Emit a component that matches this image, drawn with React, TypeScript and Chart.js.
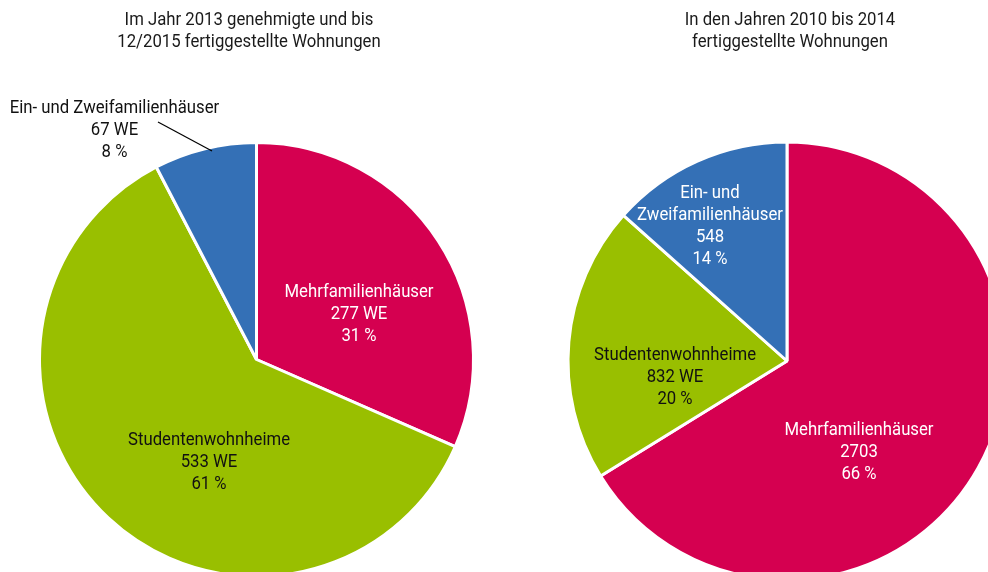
import React, { useEffect, useRef } from "react";
import { Chart, registerables } from "chart.js";

Chart.register(...registerables);

// ---------- data ----------
const leftTitle = ["Im Jahr 2013 genehmigte und bis", "12/2015 fertiggestellte Wohnungen"];
const leftCategories = [["Mehrfamilienhäuser"], ["Studentenwohnheime"], ["Ein- und Zweifamilienhäuser"]];
const leftValues = [277, 533, 67];
const leftValueLabels = ["277 WE", "533 WE", "67 WE"];
const leftPercents = ["31 %", "61 %", "8 %"];

const rightTitle = ["In den Jahren 2010 bis 2014", "fertiggestellte Wohnungen"];
const rightCategories = [["Mehrfamilienhäuser"], ["Studentenwohnheime"], ["Ein- und", "Zweifamilienhäuser"]];
const rightValues = [2703, 832, 548];
const rightValueLabels = ["2703", "832 WE", "548"];
const rightPercents = ["66 %", "20 %", "14 %"];

// ---------- style / layout ----------
const sliceColors = ["#D50050", "#99BF00", "#3470B6"];
const FONT_FAMILY = "Roboto, 'Liberation Sans', sans-serif";
const FONT_SIZE = 18.5;
const LINE_H = 22;
// condensed look: measured width of this string is squeezed to this many px
const CALIB_TEXT = "Studentenwohnheime";
const CALIB_WIDTH = 162;

type PieSpec = {
  id: string;
  pageLeft: number;
  width: number;
  height: number;
  padding: { left: number; right: number; top: number; bottom: number };
  radius: number;
  title: string[];
  titleX: number;
  titleBaseline: number;
  categories: string[][];
  values: number[];
  valueLabels: string[];
  percents: string[];
  labelOffsets: [number, number][];
  labelColors: string[];
  leader?: [number, number, number, number];
};

const specs: PieSpec[] = [
  {
    id: "left",
    pageLeft: 0,
    width: 494,
    height: 572,
    padding: { left: 19, right: 0, top: 147, bottom: 0 },
    radius: 217,
    title: leftTitle,
    titleX: 249,
    titleBaseline: 25,
    categories: leftCategories,
    values: leftValues,
    valueLabels: leftValueLabels,
    percents: leftPercents,
    labelOffsets: [
      [102.5, -62.5],
      [-47.5, 85.5],
      [-142, -246.5],
    ],
    labelColors: ["#FFFFFF", "#111111", "#111111"],
    leader: [-98.5, -237.5, -44.5, -208.5],
  },
  {
    id: "right",
    pageLeft: 494,
    width: 494,
    height: 572,
    padding: { left: 92, right: 0, top: 150, bottom: 0 },
    radius: 219,
    title: rightTitle,
    titleX: 296,
    titleBaseline: 25,
    categories: rightCategories,
    values: rightValues,
    valueLabels: rightValueLabels,
    percents: rightPercents,
    labelOffsets: [
      [72, 74],
      [-112, -1.5],
      [-77, -163],
    ],
    labelColors: ["#FFFFFF", "#111111", "#FFFFFF"],
  },
];

function drawCondensed(ctx: CanvasRenderingContext2D, text: string, x: number, y: number, sx: number) {
  ctx.save();
  ctx.translate(x, y);
  ctx.scale(sx, 1);
  ctx.fillText(text, 0, 0);
  ctx.restore();
}

function makeLabelPlugin(spec: PieSpec) {
  return {
    id: "sliceLabels_" + spec.id,
    afterDatasetsDraw(chart: any) {
      const ctx = chart.ctx as CanvasRenderingContext2D;
      const meta = chart.getDatasetMeta(0);
      const arc0 = meta.data[0] as any;
      if (!arc0) return;
      const cx = arc0.x;
      const cy = arc0.y;
      ctx.save();
      ctx.font = `${FONT_SIZE}px ${FONT_FAMILY}`;
      ctx.textAlign = "center";
      ctx.textBaseline = "alphabetic";
      const sx = Math.min(1, CALIB_WIDTH / ctx.measureText(CALIB_TEXT).width);
      // title
      ctx.fillStyle = "#1a1a1a";
      spec.title.forEach((t, i) => {
        drawCondensed(ctx, t, spec.titleX, spec.titleBaseline + i * LINE_H, sx);
      });
      // slice labels
      spec.values.forEach((_, i) => {
        const lines = [...spec.categories[i], spec.valueLabels[i], spec.percents[i]];
        const [dx, dy] = spec.labelOffsets[i];
        ctx.fillStyle = spec.labelColors[i];
        lines.forEach((ln, j) => {
          drawCondensed(ctx, ln, cx + dx, cy + dy + j * LINE_H, sx);
        });
      });
      // leader line
      if (spec.leader) {
        const [x1, y1, x2, y2] = spec.leader;
        ctx.strokeStyle = "#000000";
        ctx.lineWidth = 1.2;
        ctx.beginPath();
        ctx.moveTo(cx + x1, cy + y1);
        ctx.lineTo(cx + x2, cy + y2);
        ctx.stroke();
      }
      ctx.restore();
    },
  };
}

function PieCanvas({ spec }: { spec: PieSpec }) {
  const ref = useRef<HTMLCanvasElement | null>(null);
  useEffect(() => {
    if (!ref.current) return;
    const chart = new Chart(ref.current, {
      type: "pie",
      data: {
        labels: spec.categories.map((c) => c.join(" ")),
        datasets: [
          {
            data: spec.values,
            backgroundColor: sliceColors,
            borderColor: "#FFFFFF",
            borderWidth: 3,
            clip: false as any,
          },
        ],
      },
      options: {
        responsive: false,
        animation: false,
        events: [],
        radius: spec.radius,
        layout: { padding: spec.padding },
        plugins: {
          legend: { display: false },
          tooltip: { enabled: false },
          title: { display: false },
        },
      } as any,
      plugins: [makeLabelPlugin(spec)],
    });
    return () => chart.destroy();
  }, [spec]);
  return (
    <div style={{ position: "absolute", left: spec.pageLeft, top: 0, width: spec.width, height: spec.height }}>
      <canvas ref={ref} width={spec.width} height={spec.height} style={{ display: "block" }} />
    </div>
  );
}

export default function App() {
  return (
    <div
      style={{
        position: "fixed",
        left: 0,
        top: 0,
        width: 988,
        height: 572,
        overflow: "hidden",
        background: "#FFFFFF",
      }}
    >
      {specs.map((s) => (
        <PieCanvas key={s.id} spec={s} />
      ))}
    </div>
  );
}
